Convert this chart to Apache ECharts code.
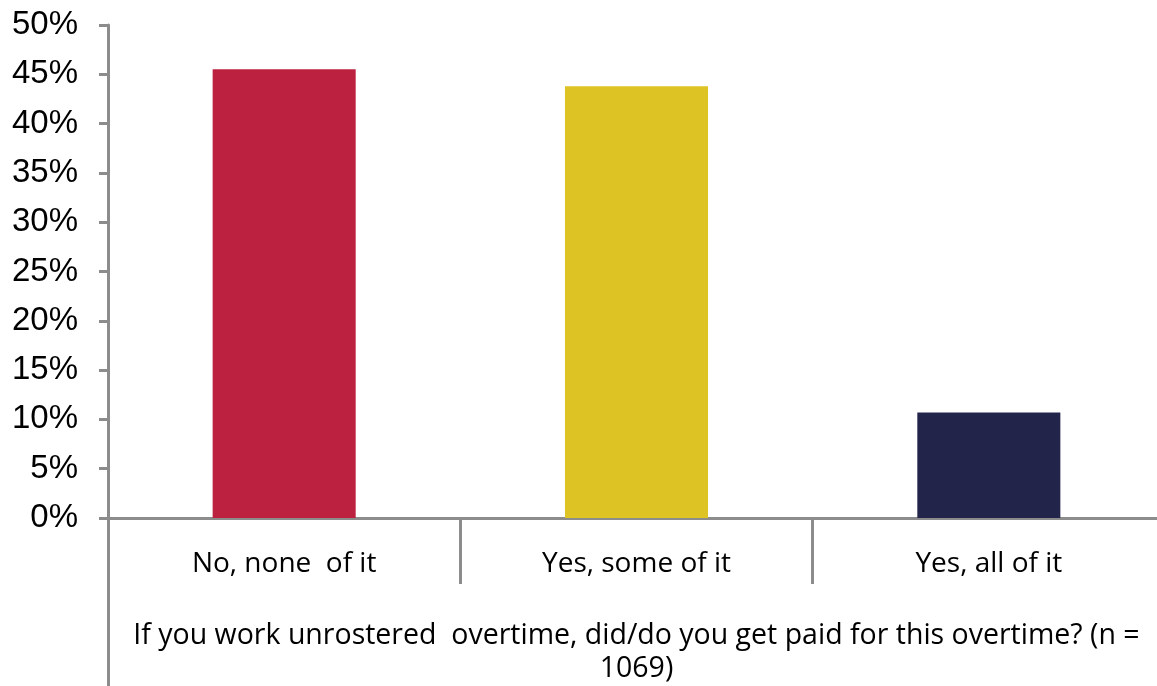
<!DOCTYPE html>
<html>
<head>
<meta charset="utf-8">
<script src="https://cdn.jsdelivr.net/npm/echarts@6/dist/echarts.min.js"></script>
<style>
  html, body { margin: 0; padding: 0; background: #ffffff; }
  #chart { width: 1157px; height: 686px; }
</style>
</head>
<body>
<div id="chart"></div>
<script>
// Survey answers (percent of respondents)
const categories = ['No, none  of it', 'Yes, some of it', 'Yes, all of it'];
const values = [45.5, 43.8, 10.7];
const barColors = ['#BC2240', '#DEC325', '#22244A'];
const question = 'If you work unrostered  overtime, did/do you get paid for this overtime? (n =\n1069)';

const axisGrey = '#8C8C8C';
const chart = echarts.init(document.getElementById('chart'));

chart.setOption({
  animation: false,
  backgroundColor: '#ffffff',
  // plot area runs slightly past the right edge of the canvas
  grid: { left: 108, width: 1057, top: 25, bottom: 168, containLabel: false, outerBoundsMode: 'none' },
  xAxis: [
    {
      type: 'category',
      data: categories,
      boundaryGap: true,
      axisLine: { show: true, lineStyle: { color: axisGrey, width: 3 } },
      axisTick: { show: true, interval: 0, length: 66, lineStyle: { color: axisGrey, width: 3 } },
      axisLabel: {
        interval: 0,
        margin: 32,
        color: '#000000',
        fontFamily: 'Open Sans',
        fontSize: 28
      }
    },
    {
      // outer level of the category axis: the question asked
      type: 'category',
      position: 'bottom',
      data: [question],
      boundaryGap: true,
      axisLine: { show: false },
      axisTick: { show: true, interval: 0, length: 168, lineStyle: { color: axisGrey, width: 3 } },
      axisLabel: {
        interval: 0,
        margin: 101,
        color: '#000000',
        fontFamily: 'Open Sans',
        fontSize: 28.5,
        lineHeight: 33,
        align: 'center'
      }
    }
  ],
  yAxis: {
    type: 'value',
    min: 0,
    max: 50,
    interval: 5,
    splitLine: { show: false },
    axisLine: { show: true, lineStyle: { color: axisGrey, width: 3 } },
    axisTick: { show: true, length: 9, lineStyle: { color: axisGrey, width: 3 } },
    axisLabel: {
      formatter: '{value}%',
      margin: 30,
      color: '#000000',
      fontFamily: 'Liberation Sans',
      fontSize: 33
    }
  },
  series: [
    {
      type: 'bar',
      xAxisIndex: 0,
      barWidth: '40.6%',
      data: values.map((v, i) => ({ value: v, itemStyle: { color: barColors[i] } }))
    }
  ]
});
</script>
</body>
</html>
